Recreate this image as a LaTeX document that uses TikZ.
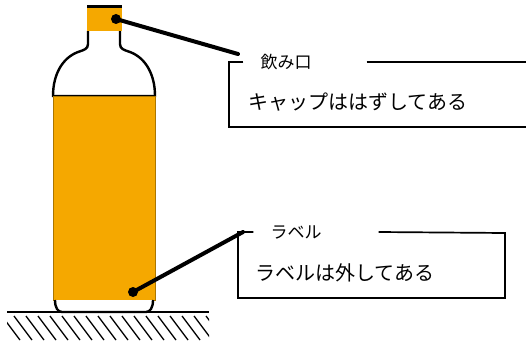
\documentclass[tikz,border=0pt]{standalone}
\usepackage{fontspec}
\newfontfamily\jpfont{Noto Sans CJK JP}
\usetikzlibrary{positioning}
\definecolor{juice}{RGB}{245,168,0}
\tikzset{
	outline/.style={line width=2.4pt, black}, % thick black edge of the empty parts of the bottle
	leader/.style={line width=4pt, line cap=round}, % pointer from the bottle to a box
	dot/.style={circle, fill=black, inner sep=0pt, minimum size=10pt}, % end point on the bottle
	title/.style={font=\jpfont\fontsize{17}{17}\selectfont, inner sep=0pt}, % heading set into the frame
	remark/.style={font=\jpfont\fontsize{20}{20}\selectfont, inner sep=0pt, anchor=west}, % text inside the frame
	frame/.style={line width=1.7pt},
}

\begin{document}
\begin{tikzpicture}[x=1pt, y=-1pt]
	\useasboundingbox (0,0) rectangle (526,342);
	% shoulders and neck
	\draw[outline, fill=white] (88,31) -- (88,44) .. controls (88,49) and (84,50) .. (78,52)
		.. controls (62,58) and (53,75) .. (53,96) -- (155,96)
		.. controls (155,75) and (146,58) .. (130,52) .. controls (124,50) and (120,49) .. (120,44) -- (120,31);
	% liquid
	\draw[fill=juice, draw=juice!70!black, line width=0.8pt] (53,96) rectangle (155,300);
	% base
	\draw[outline, fill=white] (55,300) .. controls (55,308) and (58,312) .. (62,312) -- (146,312)
		.. controls (150,312) and (153,308) .. (153,300);
	% cap
	\fill[juice] (87,8) rectangle (122,31);
	\draw[line width=3pt] (87,7) -- (122,7);
	% floor
	\draw[line width=1.6pt] (7,312) -- (209,312);
	\begin{scope}
		\clip (7,313) rectangle (209,342);
		\foreach \x in {2,14,...,206}
			\draw[line width=1.3pt] (\x,316) -- ++(18,24);
	\end{scope}

	\node[dot] (capdot) at (116,19) {};
	\coordinate (capend) at (238,54);
	\draw[leader] (capdot.center) -- (capend);
	\node[dot] (labeldot) at (133,292) {};
	\coordinate (labelend) at (243,232);
	\draw[leader] (labeldot.center) -- (labelend);

	% upper box
	\node[title] (captitle) at (286,62) {飲み口};
	\node[remark] (captext) at (248,102) {キャップははずしてある};
	\draw[frame] ([xshift=-17pt]captitle.west) -| (229,127) -- (528,127);
	\draw[frame] ([xshift=55pt]captitle.east) -- (528,62);

	% lower box
	\node[title] (labeltitle) at (296,232) {ラベル};
	\node[remark] (labeltext) at (255,273) {ラベルは外してある};
	\draw[frame] ([xshift=-17pt]labeltitle.west) -| (238,298) -| (505,233) -- ([xshift=57pt]labeltitle.east);
\end{tikzpicture}
\end{document}
